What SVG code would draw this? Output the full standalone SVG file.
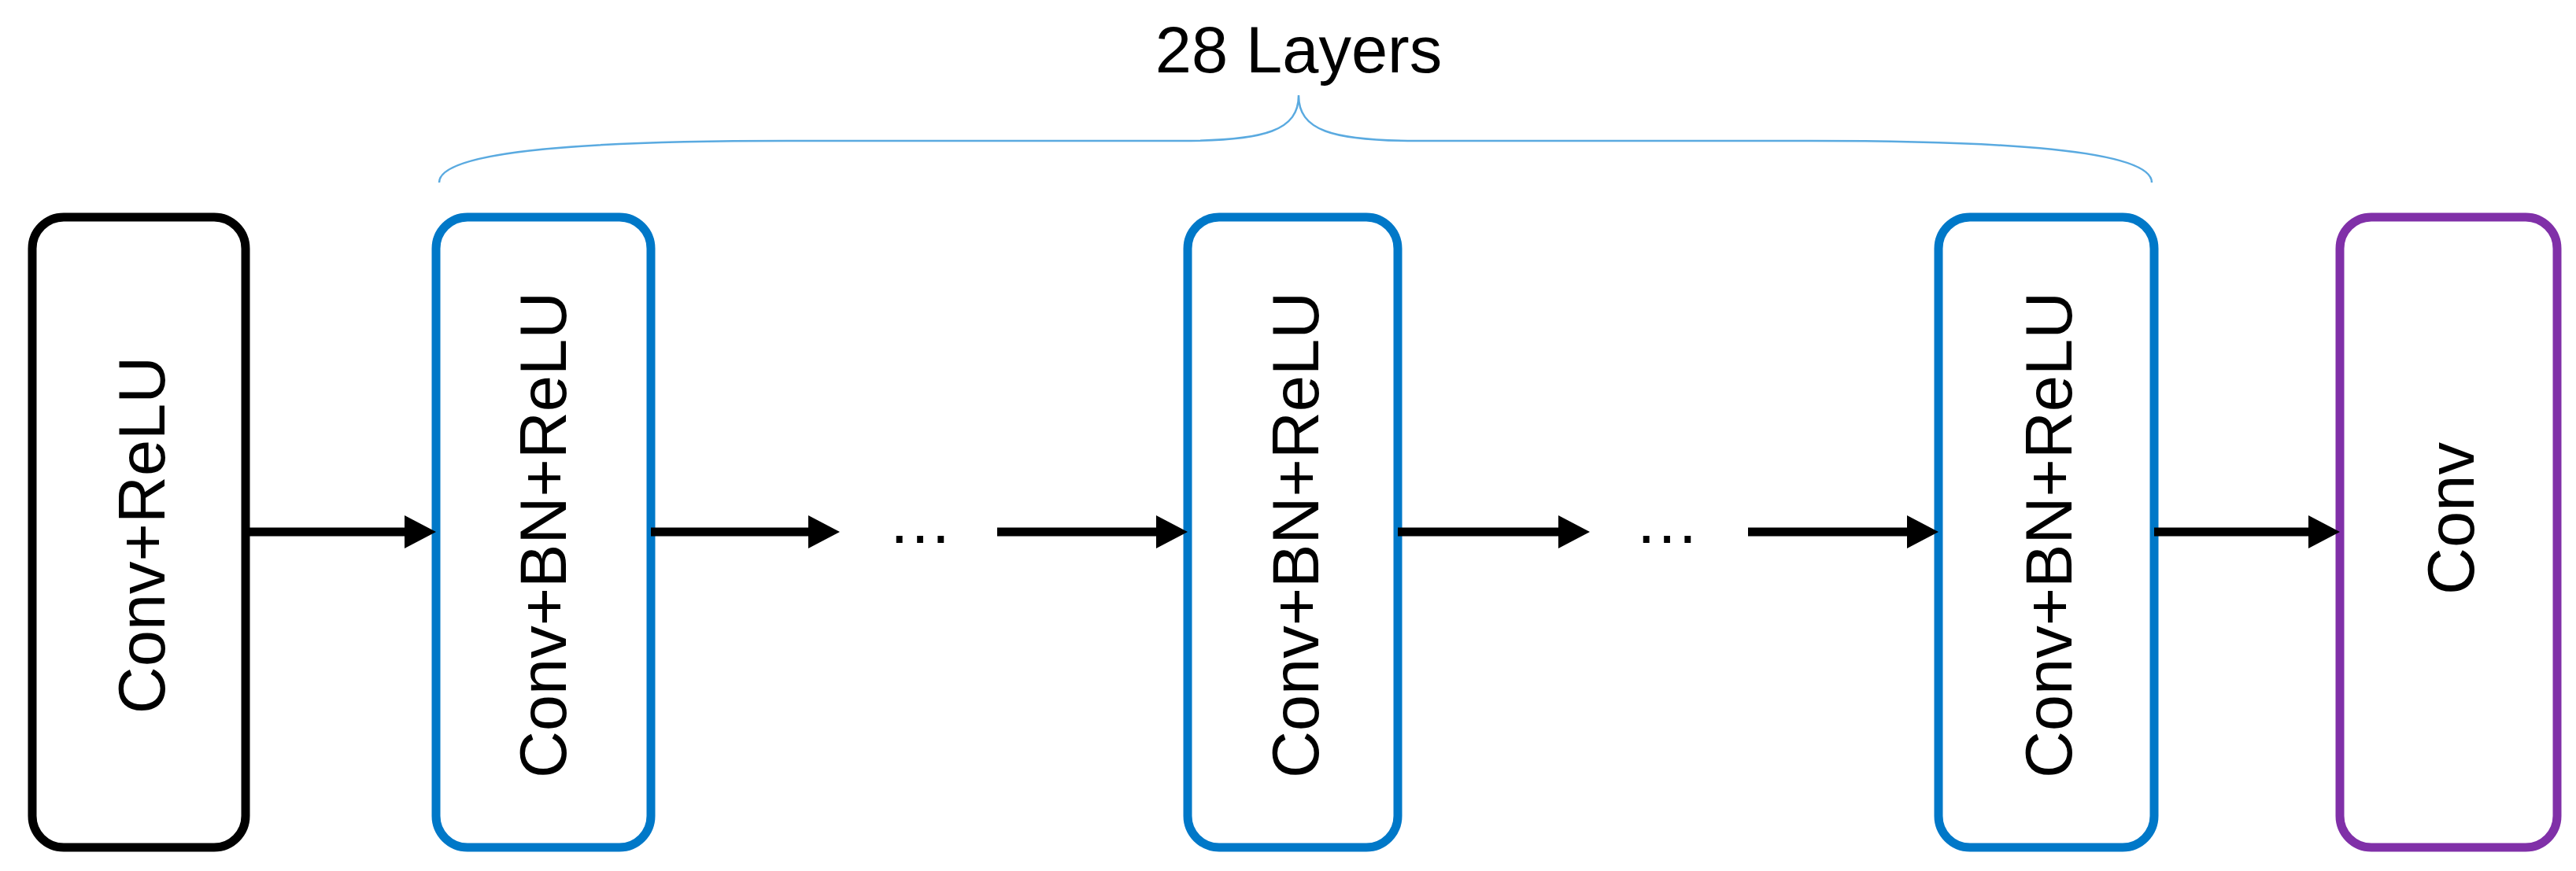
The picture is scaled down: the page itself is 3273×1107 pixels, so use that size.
<svg xmlns="http://www.w3.org/2000/svg" width="3273" height="1107" viewBox="0 0 3273 1107">
<style>
.box{fill:#fff;stroke-width:11}
.t{font-family:"Liberation Sans",Arial,sans-serif;font-size:83px;fill:#000;text-anchor:middle}
.c{stroke:#000;stroke-width:11;fill:none;marker-end:url(#a)}
</style>
<defs><marker id="a" markerUnits="userSpaceOnUse" markerWidth="42" markerHeight="42" refX="1" refY="21" orient="auto" overflow="visible"><path d="M0,0L40,21L0,42Z" fill="#000"/></marker></defs>
<rect width="3273" height="1107" fill="#fff"/>
<g id="title"><text class="t" x="1650" y="92">28 Layers</text>
<path d="M558,232C558,190 760,179 1000,179L1500,179C1610,179 1650,165 1650,121C1650,165 1690,179 1800,179L2300,179C2540,179 2734,190 2734,232" fill="none" stroke="#5aaae0" stroke-width="2.5"/></g>
<g id="n1"><rect class="box" x="41" y="276" width="271" height="801" rx="40" stroke="#000"/><text class="t" transform="translate(209,680) rotate(-90)">Conv+ReLU</text></g>
<g id="n2"><rect class="box" x="554" y="276" width="273" height="801" rx="40" stroke="#0078c8"/><text class="t" transform="translate(719,680) rotate(-90)">Conv+BN+ReLU</text></g>
<g id="n3"><rect class="box" x="1509" y="276" width="267" height="801" rx="40" stroke="#0078c8"/><text class="t" transform="translate(1675,680) rotate(-90)">Conv+BN+ReLU</text></g>
<g id="n4"><rect class="box" x="2463" y="276" width="274" height="801" rx="40" stroke="#0078c8"/><text class="t" transform="translate(2632,680) rotate(-90)">Conv+BN+ReLU</text></g>
<g id="n5"><rect class="box" x="2973" y="276" width="276" height="801" rx="40" stroke="#8030a8"/><text class="t" transform="translate(3143,659) rotate(-90)">Conv</text></g>
<g id="dots"><text class="t" x="1169" y="690">…</text><text class="t" x="2118" y="690">…</text></g>
<g id="connectors">
<line class="c" x1="312" y1="676" x2="515" y2="676"/>
<line class="c" x1="827" y1="676" x2="1028" y2="676"/>
<line class="c" x1="1267" y1="676" x2="1470" y2="676"/>
<line class="c" x1="1776" y1="676" x2="1981" y2="676"/>
<line class="c" x1="2221" y1="676" x2="2424" y2="676"/>
<line class="c" x1="2737" y1="676" x2="2934" y2="676"/>
</g>
</svg>
